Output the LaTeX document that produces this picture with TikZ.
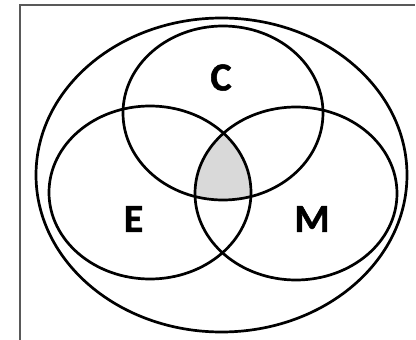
\documentclass[tikz,border=0pt]{standalone}
\usepackage{fontspec}
\newfontfamily\labfont{Carlito}[BoldFeatures={FakeBold=1.2}]
\definecolor{framegray}{HTML}{595959}
\definecolor{lightshade}{HTML}{D9D9D9}
\begin{document}
\begin{tikzpicture}[x=1pt,y=-1pt,
  setline/.style={line width=2.7pt,black},
  framel/.style={line width=1.3pt,framegray},
  lab/.style={font=\labfont\bfseries\fontsize{40}{44}\selectfont,inner sep=0pt}]
\useasboundingbox (0,0) rectangle (416,340);
% frame
\draw[framel] (20,340) -- (20,5) -- (415,5);
% shaded triple intersection
\begin{scope}
  \clip (223,113) ellipse [x radius=100pt, y radius=87pt];
  \clip (150,192.5) ellipse [x radius=101pt, y radius=86.5pt];
  \fill[lightshade] (296,193.5) ellipse [x radius=101pt, y radius=86.5pt];
\end{scope}
% outer universe
\draw[setline] (221.5,175) ellipse [x radius=185.5pt, y radius=157pt];
% sets
\draw[setline] (223,113) ellipse [x radius=100pt, y radius=87pt];
\draw[setline] (150,192.5) ellipse [x radius=101pt, y radius=86.5pt];
\draw[setline] (296,193.5) ellipse [x radius=101pt, y radius=86.5pt];
% labels
\node[lab] (C) at (221,77.5) {C};
\node[lab] (E) at (133.5,219) {E};
\node[lab] (M) at (312,219) {M};
\end{tikzpicture}
\end{document}
